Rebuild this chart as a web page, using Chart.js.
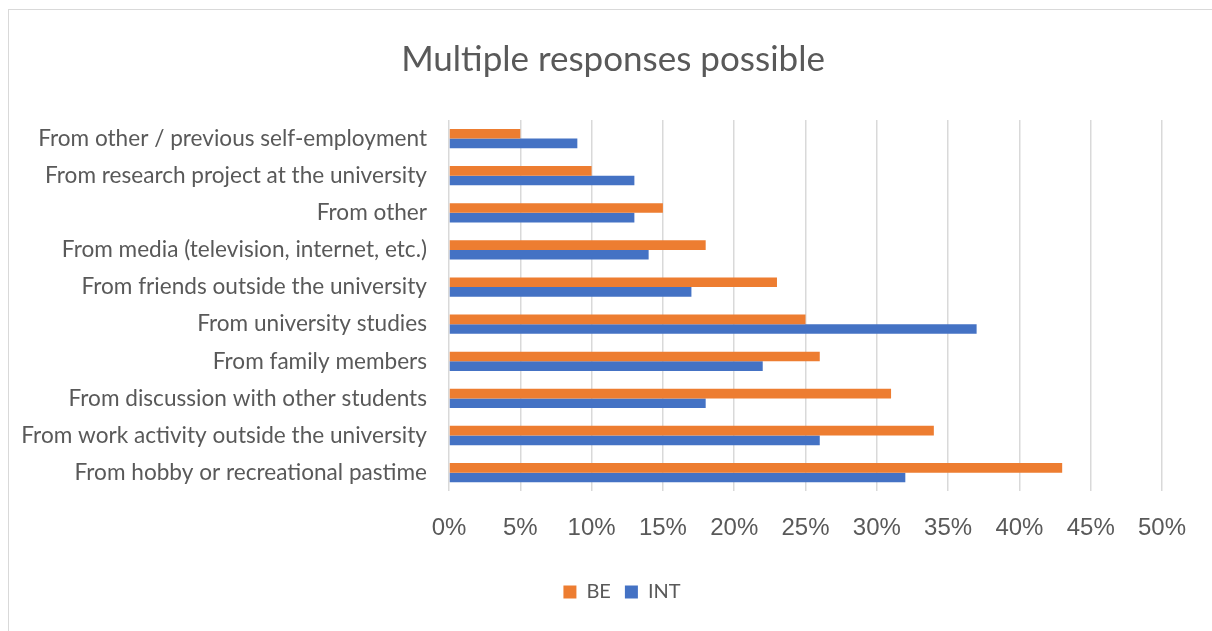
<!DOCTYPE html>
<html>
<head>
<meta charset="utf-8">
<script src="https://cdn.jsdelivr.net/npm/chart.js@4/dist/chart.umd.min.js"></script>
<style>
  html, body { margin: 0; padding: 0; background: #fff; }
  #wrap { width: 1212px; height: 631px; position: relative; }
</style>
</head>
<body>
<div id="wrap"><canvas id="Graphique"></canvas></div>
<script>
// categories, top to bottom
var categories = [
    'From other / previous self-employment',
    'From research project at the university',
    'From other',
    'From media (television, internet, etc.)',
    'From friends outside the university',
    'From university studies',
    'From family members',
    'From discussion with other students',
    'From work activity outside the university',
    'From hobby or recreational pastime'
];
// share of respondents, in %
var valuesBE  = [5, 10, 15, 18, 23, 25, 26, 31, 34, 43];
var valuesINT = [9, 13, 13, 14, 17, 37, 22, 18, 26, 32];
var tickValues = [0, 5, 10, 15, 20, 25, 30, 35, 40, 45, 50];

var grisTexte = '#595959';

// cadre gris autour du graphique + recentrage du titre et de la légende
var cadre = {
    id: 'cadre',
    afterLayout: function (chart) {
        chart.titleBlock.left = 64;
        chart.titleBlock.right = 1162;
        chart.legend.left = 82;
        chart.legend.right = 1162;
    },
    beforeDraw: function (chart) {
        var ctx = chart.ctx;
        ctx.save();
        ctx.fillStyle = '#ffffff';
        ctx.fillRect(0, 0, chart.width, chart.height);
        ctx.strokeStyle = '#d9d9d9';
        ctx.lineWidth = 1;
        ctx.strokeRect(8.5, 9.5, chart.width + 20, chart.height + 20);
        ctx.restore();
    }
};

var option = {
    indexAxis: 'y', //barres horizontales
    animation: false,
    responsive: true,
    maintainAspectRatio: false,
    layout: {
        padding: { left: 0, right: 50, top: 0, bottom: 19 }
    },
    plugins: {
        title: {
            display: true,
            text: 'Multiple responses possible',
            color: grisTexte,
            font: { family: 'Lato', size: 35, weight: 'normal' },
            padding: { top: 39, bottom: 39 }
        },
        legend: {
            display: true,
            position: 'bottom',
            labels: {
                color: grisTexte,
                font: { family: 'Lato', size: 20 },
                boxWidth: 13,
                boxHeight: 13,
                padding: 14
            }
        },
        tooltip: { enabled: false }
    },
    scales: {
        x: {
            min: 0,
            max: 50,
            afterBuildTicks: function (scale) {
                scale.ticks = tickValues.map(function (v) { return { value: v }; });
            },
            afterFit: function (scale) { scale.height = scale.height + 2; },
            ticks: {
                color: grisTexte,
                font: { family: 'Liberation Sans', size: 24 },
                padding: 23,
                callback: function (v) { return v + '%'; }
            },
            grid: {
                color: '#d9d9d9',
                lineWidth: 1.5,
                drawTicks: false
            },
            border: { display: false }
        },
        y: {
            afterFit: function (scale) { scale.width = 449; },
            ticks: {
                color: grisTexte,
                font: { family: 'Lato', size: 22.6 },
                padding: 22
            },
            grid: { display: false, drawTicks: false },
            border: { display: false }
        }
    }
};

var data = {
    labels: categories,
    datasets: [{
        label: 'BE',
        data: valuesBE,
        backgroundColor: '#ED7D31',
        categoryPercentage: 0.52,
        barPercentage: 1.0
    }, {
        label: 'INT',
        data: valuesINT,
        backgroundColor: '#4472C4',
        categoryPercentage: 0.52,
        barPercentage: 1.0
    }]
};

var chartObj = new Chart(document.getElementById('Graphique').getContext('2d'), {
    type: 'bar',
    data: data,
    options: option,
    plugins: [cadre]
});
</script>
</body>
</html>
